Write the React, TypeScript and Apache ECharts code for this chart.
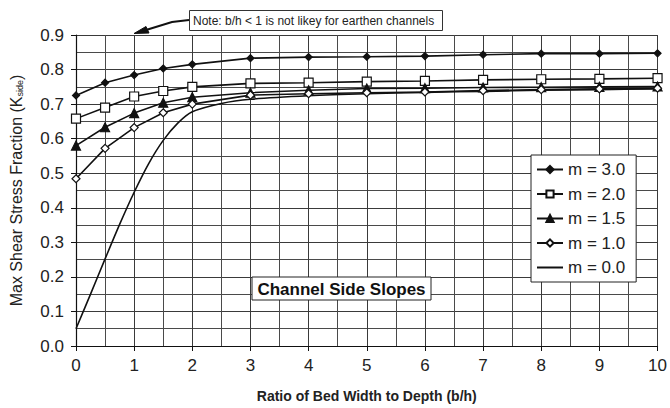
import React, { useEffect, useRef } from "react";
import * as echarts from "echarts";

const xMarked = [0, 0.5, 1, 1.5, 2, 3, 4, 5, 6, 7, 8, 9, 10];
const m30 = [0.725, 0.762, 0.784, 0.803, 0.815, 0.833, 0.836, 0.837, 0.839, 0.843, 0.846, 0.846, 0.847];
const m20 = [0.658, 0.69, 0.722, 0.738, 0.75, 0.76, 0.762, 0.765, 0.767, 0.77, 0.772, 0.773, 0.775];
const m15 = [0.58, 0.633, 0.674, 0.704, 0.72, 0.733, 0.74, 0.745, 0.746, 0.748, 0.749, 0.75, 0.751];
const m10 = [0.484, 0.572, 0.632, 0.675, 0.7, 0.726, 0.73, 0.733, 0.735, 0.739, 0.742, 0.744, 0.746];
const x00 = [0, 0.25, 0.5, 0.75, 1, 1.25, 1.5, 1.75, 2, 2.5, 3, 4, 5, 6, 7, 8, 9, 10];
const m00 = [0.05, 0.15, 0.252, 0.352, 0.445, 0.528, 0.595, 0.645, 0.678, 0.702, 0.714, 0.724, 0.73, 0.734, 0.737, 0.74, 0.742, 0.744];
const seriesNames = ["m = 3.0", "m = 2.0", "m = 1.5", "m = 1.0", "m = 0.0"];

const FONT = "Liberation Sans, Arial, sans-serif";

const pair = (xs: number[], ys: number[]) => xs.map((x, i) => [x, ys[i]]);

export default function App() {
  const ref = useRef<HTMLDivElement>(null);
  useEffect(() => {
    document.body.style.margin = "0";
    if (!ref.current) return;
    const chart = echarts.init(ref.current, null, { renderer: "svg" });
    const lineStyle = { color: "#111", width: 1.6 };
    const mk = (name: string, data: number[][], symbol: string, size: number, fill: string, extra: any = {}) => ({
      name,
      type: "line",
      data,
      symbol,
      symbolSize: size,
      showAllSymbol: true,
      lineStyle,
      itemStyle: { color: fill, borderColor: "#111", borderWidth: 1.2 },
      ...extra,
    });
    chart.setOption({
      animation: false,
      backgroundColor: "#fff",
      textStyle: { fontFamily: FONT },
      grid: { left: 75, right: 9, top: 35, bottom: 57, containLabel: false },
      xAxis: {
        type: "value",
        min: 0,
        max: 10,
        interval: 1,
        name: "Ratio of Bed Width to Depth (b/h)",
        nameLocation: "middle",
        nameGap: 43,
        nameTextStyle: { fontFamily: FONT, fontSize: 14, fontWeight: "bold", color: "#222" },
        axisLine: { show: true, lineStyle: { color: "#111", width: 1.2 } },
        axisTick: { show: true, length: 5, inside: false, lineStyle: { color: "#111" } },
        axisLabel: { fontFamily: FONT, fontSize: 17, color: "#222", margin: 11 },
        splitLine: { show: true, lineStyle: { color: "#3a3a3a", width: 1 } },
        minorTick: { show: false, splitNumber: 2 },
        minorSplitLine: { show: true, lineStyle: { color: "#4a4a4a", width: 1 } },
      },
      yAxis: {
        type: "value",
        min: 0,
        max: 0.9,
        interval: 0.1,
        name: "Max Shear Stress Fraction (K{sub|side})",
        nameLocation: "middle",
        nameRotate: 90,
        nameGap: 52,
        nameTextStyle: {
          fontFamily: FONT,
          fontSize: 16,
          color: "#222",
          rich: { sub: { fontSize: 9, fontFamily: FONT, color: "#222", verticalAlign: "bottom", padding: [6, 0, 0, 0] } },
        },
        axisLine: { show: true, lineStyle: { color: "#111", width: 1.2 } },
        axisTick: { show: true, length: 5, inside: false, lineStyle: { color: "#111" } },
        axisLabel: { fontFamily: FONT, fontSize: 17, color: "#222", margin: 12, formatter: (v: number) => v.toFixed(1) },
        splitLine: { show: true, lineStyle: { color: "#3a3a3a", width: 1 } },
        minorTick: { show: false, splitNumber: 2 },
        minorSplitLine: { show: true, lineStyle: { color: "#4a4a4a", width: 1 } },
      },
      legend: {
        orient: "vertical",
        left: 531,
        top: 155,
        data: [
          seriesNames[0],
          seriesNames[1],
          seriesNames[2],
          seriesNames[3],
          { name: seriesNames[4], itemStyle: { opacity: 0 } },
        ],
        backgroundColor: "#fff",
        borderColor: "#222",
        borderWidth: 1,
        borderRadius: 0,
        padding: [6, 11, 6, 5],
        itemWidth: 26,
        itemHeight: 9,
        itemGap: 7.5,
        textStyle: { fontFamily: FONT, fontSize: 17, color: "#222" },
      },
      series: [
        mk(seriesNames[0], pair(xMarked, m30), "diamond", 7, "#111"),
        mk(seriesNames[1], pair(xMarked, m20), "rect", 9, "#fff"),
        mk(seriesNames[2], pair(xMarked, m15), "triangle", 9, "#111"),
        mk(seriesNames[3], pair(xMarked, m10), "diamond", 8, "#fff"),
        mk(seriesNames[4], pair(x00, m00), "none", 0, "#111", { smooth: 0.3 }),
      ],
      graphic: [
        {
          type: "rect",
          shape: { x: 252, y: 277, width: 179, height: 23 },
          style: { fill: "#fff", stroke: "#222", lineWidth: 1 },
          z: 10,
        },
        {
          type: "text",
          x: 341.5,
          y: 289,
          style: {
            text: "Channel Side Slopes",
            fontFamily: FONT,
            fontSize: 17,
            fontWeight: "bold",
            fill: "#111",
            align: "center",
            verticalAlign: "middle",
          },
          z: 11,
        },
        {
          type: "rect",
          shape: { x: 189.5, y: 10.5, width: 253, height: 20 },
          style: { fill: "#fff", stroke: "#333", lineWidth: 1 },
          z: 10,
        },
        {
          type: "text",
          x: 193,
          y: 21,
          style: {
            text: "Note: b/h < 1 is not likey for earthen channels",
            fontFamily: FONT,
            fontSize: 12,
            fill: "#222",
            align: "left",
            verticalAlign: "middle",
          },
          z: 11,
        },
        {
          type: "polyline",
          shape: { points: [[189, 20], [172, 22], [146, 30]] },
          style: { stroke: "#111", lineWidth: 2, fill: null },
          z: 10,
        },
        {
          type: "polygon",
          shape: { points: [[134, 33.5], [146, 26.5], [149, 33]] },
          style: { fill: "#111", stroke: "#111", lineWidth: 1 },
          z: 10,
        },
      ],
    });
    return () => chart.dispose();
  }, []);
  return <div ref={ref} style={{ width: 670, height: 408 }} />;
}
